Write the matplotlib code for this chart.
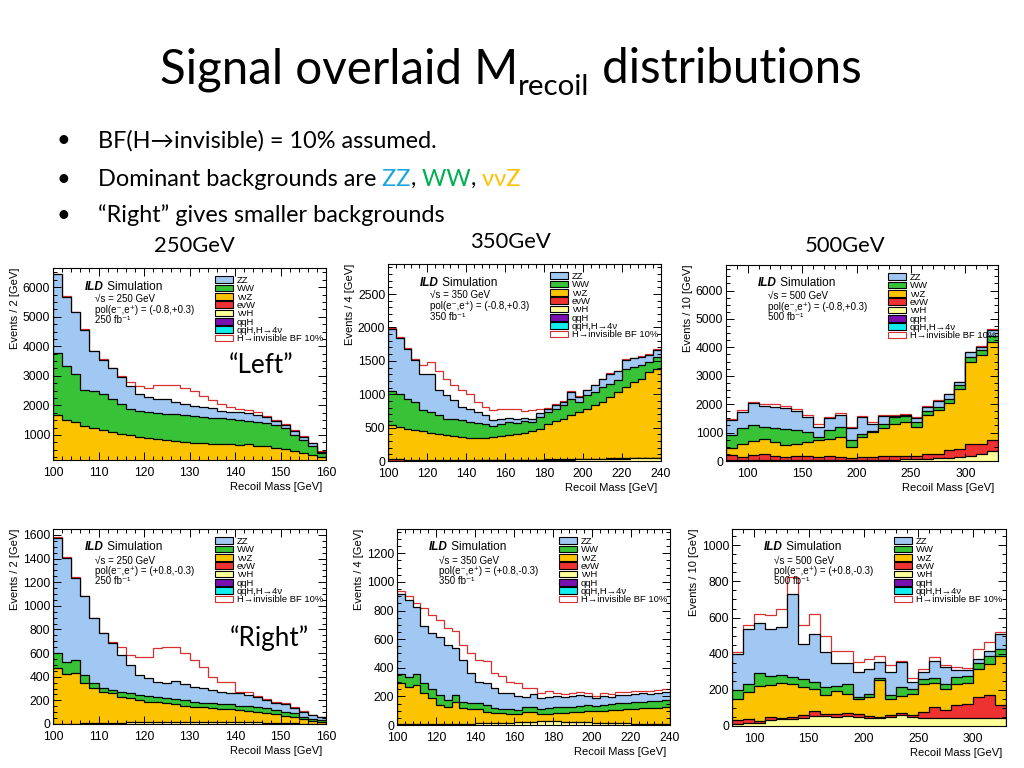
import numpy as np
import matplotlib
matplotlib.use("Agg")
import matplotlib.pyplot as plt
from matplotlib.ticker import MultipleLocator
from matplotlib.patches import Rectangle

W, H = 1024, 768
SLIDE_FONT = ["Lato", "DejaVu Sans"]
PLOT_FONT = ["Liberation Sans", "DejaVu Sans"]
plt.rcParams["font.family"] = PLOT_FONT

# ---------------- data (events per bin) ----------------
# Left polarisation, sqrt(s)=250 GeV, 2 GeV bins 100-160
l250_vvz = [1680,1520,1450,1300,1240,1180,1100,1030,980,930,880,850,820,790,760,740,720,700,690,680,660,680,640,610,560,520,470,400,330,250]
l250_ww = [2090,1810,1600,1230,1240,1190,1100,1020,890,890,900,890,900,910,900,890,880,880,870,850,860,800,810,790,770,710,530,430,290,130]
l250_zz = [2660,2350,2100,2030,1350,1180,1050,900,780,580,500,480,480,400,400,360,350,320,260,260,240,260,230,190,130,100,120,90,100,55]
l250_sig = [20,20,20,20,20,20,20,50,150,240,320,460,500,580,540,490,380,280,230,140,100,110,80,50,50,40,40,30,10,5]

# Left polarisation, 350 GeV, 4 GeV bins 100-240
l350_vvh = [5,5,5,5,5,5,6,6,6,7,7,8,8,9,10,11,12,13,14,15,16,18,20,22,24,26,28,30,32,34,36,38,40,42,44]
l350_evw = [20,18,16,15,14,13,12,11,10,10,9,9,8,8,8,7,7,7,7,7,7,7,7,7,7,7,7,7,7,7,7,7,7,7,7]
l350_vvz = [510,487,464,440,426,402,382,368,359,343,329,328,334,343,352,367,391,405,429,463,537,575,608,656,704,752,800,848,921,994,1067,1140,1188,1286,1334]
l350_ww = [510,500,450,425,315,315,285,250,250,250,240,230,200,165,190,200,165,175,135,175,175,175,200,250,150,200,200,225,200,175,275,225,200,150,175]
l350_zz = [930,825,740,625,550,565,375,350,285,200,190,160,135,85,75,65,60,50,50,65,50,70,50,100,75,75,100,115,150,135,125,125,125,100,100]
l350_sig = [20,20,15,15,125,185,285,250,225,250,235,150,125,160,140,135,140,95,125,50,10,10,10,10,10,10,10,10,10,10,10,10,10,10,10]

# Left polarisation, 500 GeV, 10 GeV bins 80-330
l500_vvh = [30,30,40,40,40,40,40,40,40,40,40,40,40,40,50,50,60,60,80,100,120,150,180,230,340]
l500_evw = [170,110,160,195,125,90,125,135,100,125,90,65,110,90,115,115,115,105,155,160,255,285,410,385,415]
l500_vvz = [260,475,495,530,505,450,450,495,590,600,720,390,700,895,980,1155,1205,1035,1380,1530,1655,2085,2880,3125,3435]
l500_ww = [450,530,565,435,500,540,470,355,120,320,350,260,115,25,155,240,210,180,145,120,150,160,180,175,200]
l500_zz = [530,590,770,745,740,730,675,530,350,415,415,390,595,270,280,40,30,150,150,210,170,90,170,115,230]
l500_sig = [45,45,60,60,80,85,70,60,120,55,60,55,40,40,30,20,20,20,20,20,20,20,20,20,20]

# Right polarisation, 250 GeV, 2 GeV bins 100-160
r250_vvh = [3,3,4,5,6,8,10,12,14,15,16,17,18,18,18,18,18,18,17,17,16,15,14,12,10,8,6,4,3,2]
r250_vvz = [469,421,426,340,296,266,250,220,204,188,173,167,157,149,137,129,123,115,110,107,103,98,91,84,75,63,50,36,22,18]
r250_ww = [127,104,112,70,43,28,28,42,42,43,48,42,43,45,48,42,40,42,42,43,36,42,42,37,34,34,34,22,17,14]
r250_zz = [974,876,692,664,550,466,396,311,240,169,150,133,127,152,136,127,121,113,105,98,105,91,85,70,62,64,43,42,34,22]
r250_sig = [7,6,6,6,5,5,6,70,85,155,178,282,305,291,260,226,184,113,85,88,14,28,8,6,8,6,7,6,4,4]

# Right polarisation, 350 GeV, 4 GeV bins 100-240
r350_vvh = [5,5,5,6,6,7,8,8,10,10,12,12,14,15,16,18,20,22,25,25,25,24,22,20,18,16,15,14,12,12,10,10,10,10,10]
r350_vvz = [292,264,276,216,181,133,121,156,107,100,98,82,68,67,61,57,69,72,50,52,57,63,72,74,80,82,86,91,93,98,100,107,107,112,114]
r350_ww = [61,70,77,70,63,71,46,47,47,47,42,46,35,28,33,30,35,35,35,40,42,37,35,39,42,38,39,40,47,47,54,47,51,49,51]
r350_zz = [561,538,468,398,393,404,386,327,292,206,152,152,140,117,117,98,75,89,77,82,79,75,74,78,63,51,63,54,59,54,54,58,50,56,59]
r350_sig = [21,28,28,129,129,122,117,117,105,140,152,152,106,117,72,89,63,39,40,40,18,18,18,18,18,18,18,18,18,18,18,18,18,18,18]

# Right polarisation, 500 GeV, 10 GeV bins 80-330
r500_vvh = [13,18,18,31,37,40,46,55,53,50,53,50,46,46,50,59,50,46,46,44,44,44,44,44,44]
r500_evw = [18,19,8,19,9,10,13,26,15,18,21,18,9,4,9,15,9,31,59,42,70,79,116,125,70]
r500_vvz = [120,151,198,178,193,180,156,121,105,123,104,83,105,205,91,91,116,156,135,120,119,117,156,175,276]
r500_ww = [46,45,70,51,44,40,46,41,42,33,55,9,18,10,20,50,30,27,25,27,37,39,34,46,36]
r500_zz = [202,304,276,258,263,460,193,266,193,123,114,138,138,88,128,138,41,38,97,92,42,33,21,27,83]
r500_sig = [13,22,49,77,101,95,105,110,88,70,70,55,55,37,42,5,21,18,19,15,13,8,55,50,13]

legend_labels = ["ZZ", "WW", "ννZ", "eνW", "ννH", "qqH", "qqH,H→4ν", "H→invisible BF 10%"]
bullet_lines = ["BF(H→invisible) = 10% assumed.",
                "Dominant backgrounds are ZZ, WW, ννZ",
                "“Right” gives smaller backgrounds"]
energy_labels = ["250GeV", "350GeV", "500GeV"]

# ---------------- styling ----------------
COL = dict(zz="#a0c8f2", ww="#38c238", vvz="#fcc400", evw="#ee3232",
           vvh="#ffff99", qqh="#7a10b0", qqh4="#10eeee", sig="#d83030")
ORDER = ["vvh", "evw", "vvz", "ww", "zz"]

fig = plt.figure(figsize=(W / 100, H / 100), dpi=100)
fig.patch.set_facecolor("white")
renderer = fig.canvas.get_renderer()


def fx(x):
    return x / W


def fy(y):
    return 1 - y / H


def width_of(s, **kw):
    t = fig.text(0, 0, s, **kw)
    w = t.get_window_extent(renderer).width
    t.remove()
    return w


def put_runs(x, y, parts, **common):
    for s, extra in parts:
        kw = dict(common)
        kw.update(extra)
        dy = kw.pop("dy", 0)
        t = fig.text(fx(x), fy(y + dy), s, ha="left", va="baseline", **kw)
        x += t.get_window_extent(renderer).width
    return x


panels = [
    dict(box=(53, 268, 326, 460), rng=(100, 160), comps=[None, None, l250_vvz, l250_ww, l250_zz], sig=l250_sig,
         ylim=(150, 6650), xt=(10, 2), yt=(1000, 250), ylab="Events / 2 [GeV]", E="250", pol="(-0.8,+0.3)"),
    dict(box=(388, 264, 661, 461), rng=(100, 240), comps=[l350_vvh, l350_evw, l350_vvz, l350_ww, l350_zz], sig=l350_sig,
         ylim=(0, 2950), xt=(20, 4), yt=(500, 100), ylab="Events / 4 [GeV]", E="350", pol="(-0.8,+0.3)"),
    dict(box=(726, 265, 998, 461), rng=(80, 330), comps=[l500_vvh, l500_evw, l500_vvz, l500_ww, l500_zz], sig=l500_sig,
         ylim=(0, 6900), xt=(50, 10), yt=(1000, 250), ylab="Events / 10 [GeV]", E="500", pol="(-0.8,+0.3)"),
    dict(box=(53, 529, 326, 724), rng=(100, 160), comps=[r250_vvh, None, r250_vvz, r250_ww, r250_zz], sig=r250_sig,
         ylim=(0, 1650), xt=(10, 2), yt=(200, 50), ylab="Events / 2 [GeV]", E="250", pol="(+0.8,-0.3)"),
    dict(box=(397, 529, 670, 725), rng=(100, 240), comps=[r350_vvh, None, r350_vvz, r350_ww, r350_zz], sig=r350_sig,
         ylim=(0, 1370), xt=(20, 4), yt=(200, 50), ylab="Events / 4 [GeV]", E="350", pol="(+0.8,-0.3)"),
    dict(box=(732, 529, 1006, 726), rng=(80, 330), comps=[r500_vvh, r500_evw, r500_vvz, r500_ww, r500_zz], sig=r500_sig,
         ylim=(0, 1090), xt=(50, 10), yt=(200, 50), ylab="Events / 10 [GeV]", E="500", pol="(+0.8,-0.3)"),
]

legend_style = [(COL["zz"], "black"), (COL["ww"], "black"), (COL["vvz"], "black"), (COL["evw"], "black"),
                (COL["vvh"], "black"), (COL["qqh"], "black"), (COL["qqh4"], "black"), ("white", COL["sig"])]

for p in panels:
    x0, y0, x1, y1 = p["box"]
    ax = fig.add_axes([x0 / W, 1 - y1 / H, (x1 - x0) / W, (y1 - y0) / H])
    n = len(p["sig"])
    edges = np.linspace(p["rng"][0], p["rng"][1], n + 1)
    cum = np.zeros(n)
    levels = []
    for key, vals in zip(ORDER, p["comps"]):
        if vals is None:
            continue
        cum = cum + np.asarray(vals, float)
        levels.append((cum.copy(), COL[key], "black"))
    cum = cum + np.asarray(p["sig"], float)
    levels.append((cum.copy(), "white", COL["sig"]))
    z = 1.0
    for top, fc, ec in reversed(levels):
        ax.stairs(top, edges, baseline=0, fill=True, color=fc, zorder=z)
        ax.stairs(top, edges, baseline=0, color=ec, lw=0.9, zorder=z + 0.05)
        z += 0.1
    ax.set_xlim(*p["rng"])
    ax.set_ylim(*p["ylim"])
    ax.xaxis.set_major_locator(MultipleLocator(p["xt"][0]))
    ax.xaxis.set_minor_locator(MultipleLocator(p["xt"][1]))
    ax.yaxis.set_major_locator(MultipleLocator(p["yt"][0]))
    ax.yaxis.set_minor_locator(MultipleLocator(p["yt"][1]))
    ax.tick_params(which="both", direction="in", top=True, right=True, labelsize=8.7, width=0.7)
    ax.tick_params(which="major", length=6)
    ax.tick_params(which="minor", length=3)
    ax.tick_params(axis="x", pad=4.8)
    ax.tick_params(axis="y", pad=2)
    for sp in ax.spines.values():
        sp.set_linewidth(0.8)

    fig.text(fx(x0 - 38), fy(y0), p["ylab"], rotation=90, ha="center", va="top", fontsize=8)
    fig.text(fx(x1 - 4), fy(y1 + 27), "Recoil Mass [GeV]", ha="right", va="center", fontsize=8)

    put_runs(x0 + 32, y0 + 21.5, [("ILD", dict(weight="bold", style="italic")), (" Simulation", {})],
             fontsize=8.5, family=PLOT_FONT)
    fig.text(fx(x0 + 42), fy(y0 + 34.5), "√s = %s GeV" % p["E"], fontsize=7.0, va="baseline")
    fig.text(fx(x0 + 42), fy(y0 + 45.0), "pol(e⁻,e⁺) = %s" % p["pol"], fontsize=7.0, va="baseline")
    fig.text(fx(x0 + 42), fy(y0 + 55.5), "%s fb⁻¹" % p["E"], fontsize=7.0, va="baseline")

    for i, (lab, (fc, ec)) in enumerate(zip(legend_labels, legend_style)):
        cy = y0 + 11.5 + 8.37 * i
        fig.add_artist(Rectangle((fx(x0 + 162), fy(cy + 3.3)), 18 / W, 6.6 / H, transform=fig.transFigure,
                                 facecolor=fc, edgecolor=ec, lw=0.8))
        fig.text(fx(x0 + 184), fy(cy + 3.3), lab, fontsize=6.8, va="baseline")

# ---------------- slide text ----------------
title_parts = [("Signal overlaid M", 1.0, 0.0), ("recoil", 0.62, 12.0), (" distributions", 1.0, 0.0)]
base = 40.0
tw = sum(width_of(s, fontsize=base * r, family=SLIDE_FONT) for s, r, d in title_parts)
ts = base * 702.0 / tw
put_runs(160, 83, [(s, dict(fontsize=ts * r, dy=d)) for s, r, d in title_parts], family=SLIDE_FONT, color="black")

bs = 20.0 * 339.0 / width_of(bullet_lines[0], fontsize=20, family=SLIDE_FONT)
baselines = [147.5, 186, 222]
for yb in baselines:
    fig.text(fx(63), fy(yb), "•", ha="center", va="baseline", fontsize=bs, family=SLIDE_FONT)
put_runs(98, baselines[0], [(bullet_lines[0], {})], fontsize=bs, family=SLIDE_FONT)
put_runs(98, baselines[1], [("Dominant backgrounds are", {}), (" ZZ", dict(color="#1ba6e0")), (",", {}),
                            (" WW", dict(color="#00b050")), (",", {}), (" ννZ", dict(color="#ffc000"))],
         fontsize=bs, family=SLIDE_FONT, color="black")
put_runs(98, baselines[2], [(bullet_lines[2], {})], fontsize=bs, family=SLIDE_FONT)

es = 20.0 * 81.0 / width_of(energy_labels[0], fontsize=20, family=SLIDE_FONT)
for lab, xc, yb in zip(energy_labels, [194, 510, 845], [252, 248, 252]):
    fig.text(fx(xc), fy(yb), lab, ha="center", va="baseline", fontsize=es, family=SLIDE_FONT)

qs = 20.0 * 65.0 / width_of("“Left”", fontsize=20, family=SLIDE_FONT)
fig.text(fx(261), fy(373), "“Left”", ha="center", va="baseline", fontsize=qs, family=SLIDE_FONT)
fig.text(fx(269), fy(646), "“Right”", ha="center", va="baseline", fontsize=qs, family=SLIDE_FONT)

fig.savefig("out.png", dpi=100, facecolor="white")
